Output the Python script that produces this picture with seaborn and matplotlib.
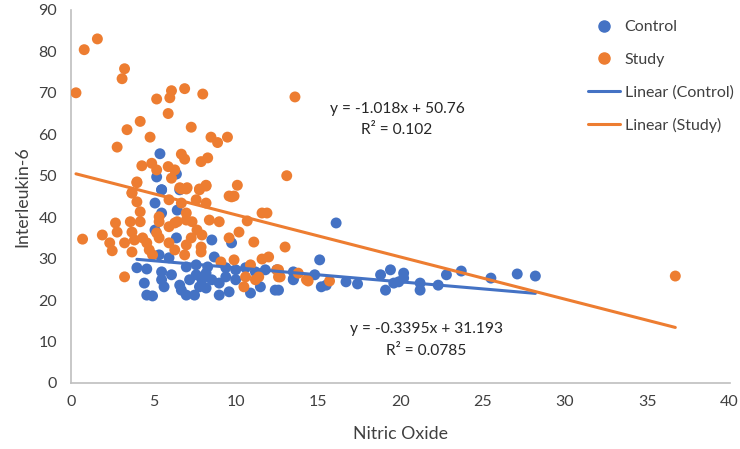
import numpy as np
import pandas as pd
import seaborn as sns
import matplotlib.pyplot as plt
from matplotlib.lines import Line2D

# Control group: Nitric Oxide vs Interleukin-6
control_x = [5.4, 5.2, 6.4, 5.5, 6.6, 5.1, 5.5, 5.5, 6.45, 5.1, 6.4, 8.55, 9.75, 5.35, 5.95,
             8.7, 4.0, 4.6, 4.45, 4.6, 4.95, 5.5, 5.65, 5.5, 6.1, 6.7, 7.0, 7.5, 7.2, 7.6,
             7.95, 8.2, 8.55, 8.2, 9.0, 9.6, 9.0, 9.4, 10.0, 10.0, 7.6, 7.0, 10.9, 11.5, 11.8,
             12.4, 12.5, 13.5, 6.6, 7.8, 8.3, 9.4, 10.6, 11.2, 16.1, 15.1, 13.5, 13.5, 14.8,
             15.2, 15.5, 16.7, 17.4, 18.8, 19.4, 19.1, 19.6, 19.9, 20.2, 20.2, 21.2, 21.2,
             22.3, 22.8, 23.7, 25.5, 27.1, 28.2, 12.6]
control_y = [55.3, 49.7, 50.4, 46.6, 46.6, 43.4, 46.6, 41.0, 41.7, 36.9, 35.0, 34.5, 33.8, 30.9, 30.2,
             30.4, 27.8, 27.5, 24.1, 21.2, 21.0, 24.9, 23.2, 26.8, 26.1, 22.4, 21.2, 21.2, 24.9, 26.1,
             24.9, 26.5, 24.9, 22.9, 21.2, 22.0, 24.1, 25.6, 24.9, 27.3, 28.5, 28.0, 21.7, 23.2, 27.3,
             22.4, 27.3, 24.9, 23.6, 23.2, 28.0, 27.8, 27.8, 26.8, 38.6, 29.7, 26.8, 25.1, 26.1,
             23.2, 23.6, 24.4, 23.9, 26.1, 27.3, 22.4, 24.1, 24.4, 26.5, 25.3, 24.1, 22.4,
             23.6, 26.1, 27.0, 25.3, 26.3, 25.8, 22.4]

# Study group
study_x = [0.3, 0.8, 1.6, 3.25, 3.1, 5.2, 6.0, 6.1, 6.9, 8.0, 5.9, 4.2, 3.4, 7.3, 4.8, 8.5,
           8.9, 9.5, 2.8, 13.6, 13.1, 6.7, 6.9, 7.9, 8.3, 4.3, 4.9, 5.2, 5.9, 6.3, 6.1, 4.0,
           10.1, 8.2, 7.8, 6.7, 7.0, 3.7, 9.6, 9.9, 4.0, 3.7, 4.0, 4.2, 3.6, 4.2, 2.7, 2.8,
           1.9, 0.7, 2.35, 2.5, 3.25, 3.7, 3.85, 4.35, 4.6, 3.7, 4.75, 4.95, 3.25, 5.35, 5.35,
           5.95, 6.6, 7.05, 7.8, 8.2, 7.6, 8.2, 6.7, 7.0, 6.45, 7.0, 7.35, 8.4, 9.0, 5.95, 6.3,
           7.65, 7.95, 7.3, 7.0, 5.95, 6.3, 6.9, 7.9, 7.9, 5.2, 5.35, 9.75, 10.7, 10.2, 9.6,
           11.1, 9.9, 9.1, 11.6, 11.9, 13.0, 11.6, 12.0, 10.9, 10.6, 11.2, 10.5, 11.4, 12.5,
           12.6, 12.7, 13.8, 14.4, 15.7, 12.6, 14.3, 36.7]
study_y = [70.0, 80.4, 83.0, 75.8, 73.4, 68.5, 68.8, 70.5, 71.0, 69.7, 65.0, 63.1, 61.1, 61.7, 59.3, 59.3,
           58.0, 59.3, 56.9, 69.0, 50.0, 55.2, 54.0, 53.4, 54.3, 52.4, 53.0, 51.4, 52.2, 51.4, 49.4, 48.5,
           47.7, 47.7, 46.8, 46.8, 46.8, 45.9, 45.1, 45.1, 48.3, 45.8, 43.7, 41.3, 38.9, 38.9, 38.6, 36.4,
           35.7, 34.7, 33.8, 31.9, 33.8, 36.4, 34.5, 35.0, 33.8, 31.6, 32.1, 30.9, 25.6, 40.1, 38.9,
           44.2, 47.1, 47.1, 46.6, 47.5, 44.2, 43.4, 43.4, 41.0, 38.9, 39.3, 38.9, 39.3, 38.9, 37.7, 38.6,
           36.9, 35.7, 35.0, 33.3, 33.8, 32.1, 30.9, 32.8, 31.6, 36.2, 35.0, 44.9, 39.1, 36.4, 35.0,
           34.0, 29.7, 29.2, 41.0, 41.0, 32.8, 29.9, 30.4, 28.5, 25.6, 24.9, 23.2, 25.6, 27.3,
           25.6, 25.6, 26.5, 24.6, 24.6, 27.3, 24.9, 25.8]

# Excel trendline coefficients (slope, intercept, R²)
control_fit = (-0.3395, 31.193, 0.0785)
study_fit = (-1.018, 50.76, 0.102)

blue = "#4472C4"
orange = "#ED7D31"

df = pd.DataFrame({
    "Nitric Oxide": control_x + study_x,
    "Interleukin-6": control_y + study_y,
    "Group": ["Control"] * len(control_x) + ["Study"] * len(study_x),
})

sns.set_style("white")
plt.rcParams['font.family'] = ['Lato', 'DejaVu Sans']

fig, ax = plt.subplots(figsize=(7.4, 4.49), dpi=100)
fig.subplots_adjust(left=0.096, right=0.986, bottom=0.147, top=0.978)

sns.scatterplot(data=df, x="Nitric Oxide", y="Interleukin-6", hue="Group",
                palette={"Control": blue, "Study": orange}, s=62, linewidth=0,
                legend=False, ax=ax, zorder=3)

# trendlines over each series' x range
for xs, fit, col in [(control_x, control_fit, blue), (study_x, study_fit, orange)]:
    tx = np.array([min(xs), max(xs)])
    sns.lineplot(x=tx, y=fit[0] * tx + fit[1], color=col, linewidth=2.2, ax=ax, zorder=4)

ax.text(19.8, 66.0, "y = -1.018x + 50.76", ha="center", va="center", fontsize=11.2)
ax.text(19.8, 61.0, "R² = 0.102", ha="center", va="center", fontsize=11.2)
ax.text(21.6, 13.0, "y = -0.3395x + 31.193", ha="center", va="center", fontsize=11.2)
ax.text(21.6, 7.8, "R² = 0.0785", ha="center", va="center", fontsize=11.2)

ax.set_xlim(0, 40)
ax.set_ylim(0, 90)
ax.set_xticks(range(0, 41, 5))
ax.set_yticks(range(0, 91, 10))
ax.tick_params(axis="both", length=0, labelsize=11.5, colors="#404040")
ax.tick_params(axis="y", pad=10)
ax.tick_params(axis="x", pad=9)
for side in ["top", "right"]:
    ax.spines[side].set_visible(False)
for side in ["left", "bottom"]:
    ax.spines[side].set_color("#BFBFBF")
    ax.spines[side].set_linewidth(1.2)

ax.set_xlabel("Nitric Oxide", fontsize=12.8, color="#404040", labelpad=12)
ax.set_ylabel("Interleukin-6", fontsize=12.8, color="#404040", labelpad=6)

handles = [
    Line2D([], [], marker="o", linestyle="none", color=blue, markersize=8),
    Line2D([], [], marker="o", linestyle="none", color=orange, markersize=8),
    Line2D([], [], color=blue, linewidth=2.2),
    Line2D([], [], color=orange, linewidth=2.2),
]
labels = ["Control", "Study", "Linear (Control)", "Linear (Study)"]
fig.legend(handles, labels, loc="upper left", bbox_to_anchor=(588 / 740, 1 - 20 / 449),
           frameon=False, borderpad=0, borderaxespad=0,
           fontsize=11.5, labelspacing=1.15, handlelength=2.0, handletextpad=0.3,
           labelcolor="#404040")

plt.savefig("out.png", dpi=100)
plt.close()
